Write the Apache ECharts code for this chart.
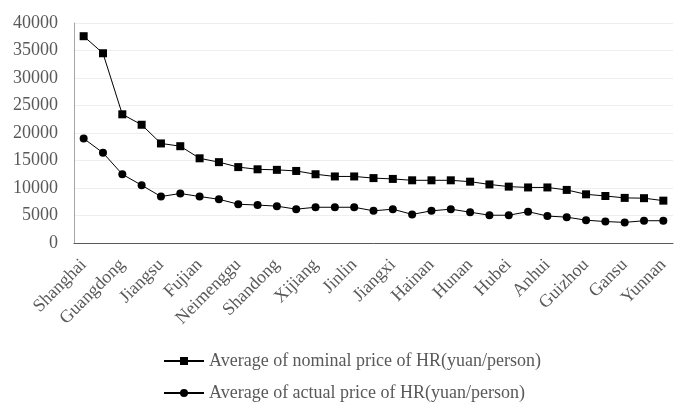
<!DOCTYPE html>
<html>
<head>
    <meta charset="utf-8" />
    <title>ECharts</title>
    <script src="https://cdn.jsdelivr.net/npm/echarts@6/dist/echarts.min.js"></script>
    <style>
        body { margin: 0; background: #fff; }
    </style>
</head>
<body>
<div id="main" style="width: 700px;height:417px;"></div>
<script type="text/javascript">
    // provinces, sorted by nominal price
    var provinces = ['Shanghai', 'Beijing', 'Guangdong', 'Tianjin', 'Jiangsu', 'Zhejiang', 'Fujian', 'Liaoning',
        'Neimenggu', 'Chongqing', 'Shandong', 'Ningxia', 'Xijiang', 'Qinghai', 'Jinlin', 'Heilongjiang',
        'Jiangxi', 'Shaanxi', 'Hainan', 'Hebei', 'Hunan', 'Shanxi', 'Hubei', 'Sichuan', 'Anhui', 'Henan',
        'Guizhou', 'Guangxi', 'Gansu', 'Xizang', 'Yunnan'];
    var nominal = [37600, 34500, 23400, 21500, 18100, 17600, 15400, 14700, 13800, 13400, 13300, 13100,
        12500, 12100, 12100, 11800, 11650, 11400, 11400, 11400, 11150, 10650, 10250, 10100, 10100,
        9650, 8850, 8550, 8200, 8150, 7700];
    var actual = [19000, 16400, 12500, 10500, 8450, 9000, 8450, 7950, 7050, 6900, 6700, 6150,
        6500, 6500, 6500, 5850, 6150, 5200, 5850, 6150, 5600, 5050, 5050, 5700, 4900,
        4700, 4150, 3900, 3750, 4050, 4050];
    var yTicks = [0, 5000, 10000, 15000, 20000, 25000, 30000, 35000, 40000];
    var names = ['Average of nominal price of HR(yuan/person)', 'Average of actual price of HR(yuan/person)'];

    var font = "'Liberation Serif', 'Times New Roman', serif";
    var txt = '#595959';

    function legendFor(name, top) {
        return {
            left: 158,
            top: top,
            itemWidth: 40,
            itemHeight: 10,
            textStyle: { color: txt, fontSize: 18, fontFamily: font },
            data: [name]
        };
    }

    var option = {
        animation: false,
        textStyle: { fontFamily: font },
        grid: { left: 74, right: 27, top: 23, bottom: 174 },
        legend: [legendFor(names[0], 347), legendFor(names[1], 379)],
        xAxis: {
            type: 'category',
            data: provinces,
            axisLine: { lineStyle: { color: '#595959', width: 1 } },
            axisTick: { show: false },
            axisLabel: { rotate: 45, interval: 1, color: txt, fontSize: 18, fontFamily: font, margin: 19 }
        },
        yAxis: {
            type: 'value',
            min: yTicks[0],
            max: yTicks[yTicks.length - 1],
            interval: 5000,
            axisLine: { show: true, lineStyle: { color: '#a6a6a6', width: 1 } },
            axisTick: { show: false },
            splitLine: { lineStyle: { color: '#eeeeee' } },
            axisLabel: {
                color: txt, fontSize: 18, fontFamily: font, margin: 16,
                formatter: function (v) { return String(v); }
            }
        },
        series: [{
            name: names[0],
            type: 'line',
            data: nominal,
            symbol: 'rect',
            symbolSize: 8,
            itemStyle: { color: '#000' },
            lineStyle: { color: '#000', width: 1 }
        }, {
            name: names[1],
            type: 'line',
            data: actual,
            symbol: 'circle',
            symbolSize: 8,
            itemStyle: { color: '#000' },
            lineStyle: { color: '#000', width: 1 }
        }]
    };

    var myChart = echarts.init(document.getElementById('main'));
    myChart.setOption(option);
</script>
</body>
</html>
